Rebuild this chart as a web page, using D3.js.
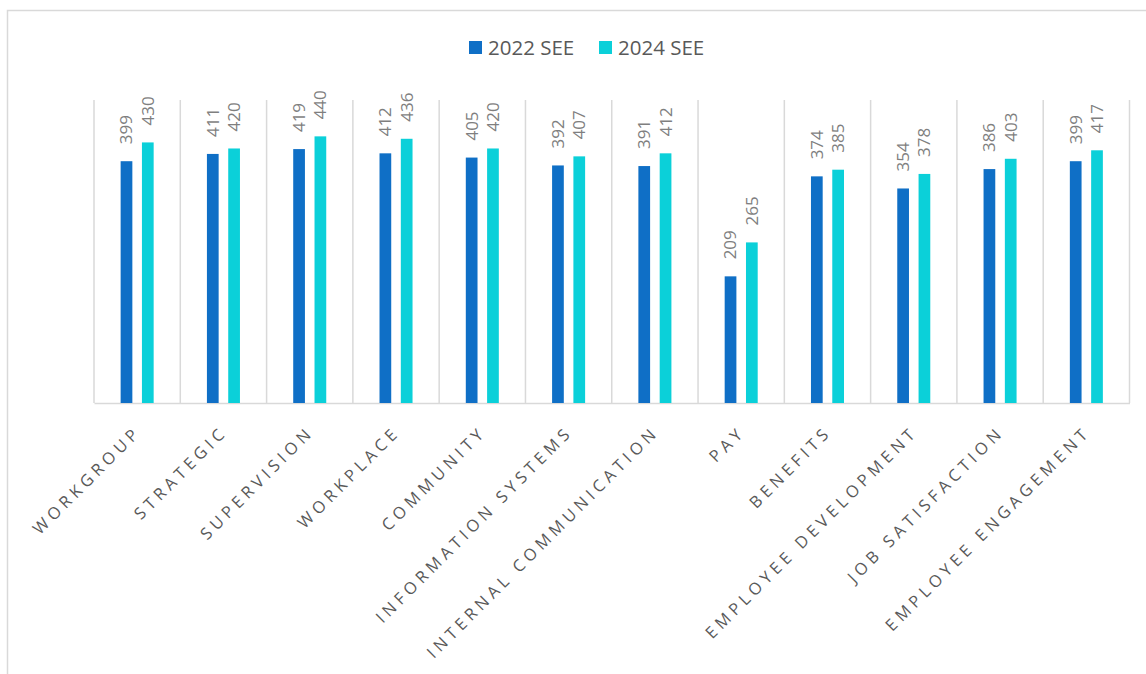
<!DOCTYPE html>
<html>
<head>
<meta charset="utf-8">
<script src="https://cdn.jsdelivr.net/npm/d3@7"></script>
<style>
  html, body { margin: 0; padding: 0; background: #fff; }
  svg { display: block; font-family: "Open Sans", "Noto Sans", sans-serif; }
</style>
</head>
<body>
<svg id="chart" width="1146" height="674"></svg>
<script>
// Survey dimension scores for the two survey years
const categories = [
  "WORKGROUP", "STRATEGIC", "SUPERVISION", "WORKPLACE", "COMMUNITY",
  "INFORMATION SYSTEMS", "INTERNAL COMMUNICATION", "PAY", "BENEFITS",
  "EMPLOYEE DEVELOPMENT", "JOB SATISFACTION", "EMPLOYEE ENGAGEMENT"
];
const seriesNames = ["2022 SEE", "2024 SEE"];
const values2022 = [399, 411, 419, 412, 405, 392, 391, 209, 374, 354, 386, 399];
const values2024 = [430, 420, 440, 436, 420, 407, 412, 265, 385, 378, 403, 417];
const seriesColors = ["#0F6FC6", "#0BD0D9"];
const yDomain = [0, 500];

const svg = d3.select("#chart");

// outer chart frame (only top and left edges fall inside the view)
svg.append("rect")
  .attr("x", 7.5).attr("y", 10.5)
  .attr("width", 1160).attr("height", 680)
  .attr("fill", "none")
  .attr("stroke", "#d9d9d9")
  .attr("stroke-width", 1.5);

const plot = { left: 94, right: 1129.5, top: 100, bottom: 403 };

const x = d3.scaleBand()
  .domain(categories)
  .range([plot.left, plot.right])
  .paddingInner(0).paddingOuter(0);

const y = d3.scaleLinear().domain(yDomain).range([plot.bottom, plot.top]);

const xSub = d3.scaleBand()
  .domain(seriesNames)
  .range([0, x.bandwidth()])
  .paddingInner(0.45)
  .paddingOuter(1.25);

// vertical separators between categories
const boundaries = categories.map(c => x(c)).concat([plot.right]);
svg.append("g")
  .selectAll("line")
  .data(boundaries)
  .join("line")
  .attr("x1", d => d).attr("x2", d => d)
  .attr("y1", plot.top).attr("y2", plot.bottom)
  .attr("stroke", "#d9d9d9")
  .attr("stroke-width", 1.5);

// category axis
const xAxis = svg.append("g")
  .attr("transform", `translate(0,${plot.bottom})`)
  .call(d3.axisBottom(x).tickSize(0).tickFormat(""));
xAxis.select(".domain").attr("stroke", "#d9d9d9").attr("stroke-width", 1.5);

const rows = categories.map((c, i) => ({ cat: c, vals: [values2022[i], values2024[i]] }));

const groups = svg.append("g")
  .selectAll("g")
  .data(rows)
  .join("g")
  .attr("transform", d => `translate(${x(d.cat)},0)`);

const bars = groups.selectAll("g.bar")
  .data(d => d.vals.map((v, k) => ({ name: seriesNames[k], value: v, k })))
  .join("g").attr("class", "bar");

bars.append("rect")
  .attr("x", d => xSub(d.name))
  .attr("width", xSub.bandwidth())
  .attr("y", d => y(d.value))
  .attr("height", d => y(0) - y(d.value))
  .attr("fill", d => seriesColors[d.k]);

// value labels, rotated, above each bar
bars.append("text")
  .attr("transform", d => `translate(${xSub(d.name) + xSub.bandwidth() / 2},${y(d.value) - 17}) rotate(-90)`)
  .attr("dy", "0.35em")
  .attr("text-anchor", "start")
  .attr("font-size", 17)
  .attr("fill", "#7f7f7f")
  .text(d => d.value);

// rotated category labels
svg.append("g")
  .selectAll("text")
  .data(categories)
  .join("text")
  .attr("transform", d => `translate(${x(d) + x.bandwidth() / 2 + 1},${plot.bottom + 26}) rotate(-45)`)
  .attr("text-anchor", "end")
  .attr("dy", "0.35em")
  .attr("font-size", 16.5)
  .attr("letter-spacing", "4.4px")
  .attr("fill", "#595959")
  .text(d => d);

// legend
const legend = svg.append("g").attr("transform", "translate(469,41)");
const legendItems = legend.selectAll("g")
  .data(seriesNames)
  .join("g")
  .attr("transform", (d, i) => `translate(${i * 130},0)`);
legendItems.append("rect")
  .attr("width", 13).attr("height", 13)
  .attr("fill", (d, i) => seriesColors[i]);
legendItems.append("text")
  .attr("x", 19).attr("y", 7)
  .attr("dy", "0.35em")
  .attr("font-size", 20.5)
  .attr("fill", "#595959")
  .text(d => d);
</script>
</body>
</html>
